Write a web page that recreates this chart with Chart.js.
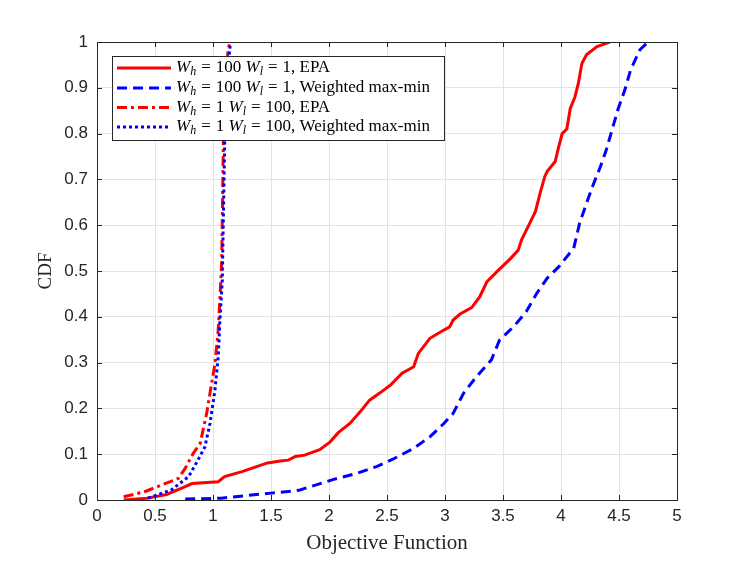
<!DOCTYPE html>
<html lang="en">
<head>
    <meta charset="UTF-8">
    <title>CDF of Objective Function</title>
    <script src="https://cdn.jsdelivr.net/npm/chart.js"></script>
    <style>
        html, body {margin: 0; padding: 0; background: #fff;}
        #wrap {width: 747px; height: 561px;}
    </style>
</head>
<body>
<div id="wrap"><canvas id="cdfChart" width="747" height="561"></canvas></div>
<script>
// tick values
const ticksX = [0, 0.5, 1, 1.5, 2, 2.5, 3, 3.5, 4, 4.5, 5];
const ticksY = [0, 0.1, 0.2, 0.3, 0.4, 0.5, 0.6, 0.7, 0.8, 0.9, 1];

// Wh=100 Wl=1, EPA
const epaHighX = [0.23, 0.43, 0.6, 0.73, 0.82, 1.045, 1.10, 1.25, 1.47, 1.58, 1.65, 1.71, 1.79, 1.92, 2.01, 2.08, 2.18, 2.27, 2.35, 2.44, 2.53, 2.63, 2.73, 2.77, 2.87, 2.99, 3.04, 3.07, 3.13, 3.23, 3.30, 3.36, 3.47, 3.56, 3.63, 3.66, 3.73, 3.78, 3.82, 3.86, 3.88, 3.95, 3.98, 4.01, 4.05, 4.08, 4.12, 4.15, 4.18, 4.22, 4.31, 4.42];
const epaHighY = [0, 0.004, 0.012, 0.026, 0.036, 0.04, 0.051, 0.062, 0.081, 0.085, 0.087, 0.095, 0.098, 0.11, 0.127, 0.147, 0.167, 0.193, 0.218, 0.234, 0.251, 0.277, 0.291, 0.32, 0.353, 0.371, 0.378, 0.393, 0.406, 0.42, 0.444, 0.476, 0.504, 0.526, 0.545, 0.568, 0.604, 0.63, 0.67, 0.706, 0.717, 0.739, 0.771, 0.80, 0.81, 0.855, 0.88, 0.91, 0.953, 0.972, 0.99, 1.0];

// Wh=100 Wl=1, Weighted max-min
const wmmHighX = [0.76, 1.07, 1.5, 1.58, 1.71, 1.75, 1.89, 2.04, 2.24, 2.41, 2.55, 2.73, 2.87, 2.99, 3.07, 3.16, 3.27, 3.40, 3.47, 3.59, 3.70, 3.79, 3.88, 3.98, 4.11, 4.16, 4.22, 4.28, 4.34, 4.39, 4.44, 4.49, 4.55, 4.60, 4.68, 4.75];
const wmmHighY = [0.002, 0.004, 0.015, 0.017, 0.02, 0.022, 0.033, 0.045, 0.058, 0.073, 0.089, 0.113, 0.138, 0.167, 0.189, 0.233, 0.269, 0.306, 0.349, 0.378, 0.411, 0.451, 0.484, 0.509, 0.55, 0.604, 0.648, 0.69, 0.728, 0.764, 0.808, 0.852, 0.895, 0.939, 0.983, 1.0];

// Wh=1 Wl=100, EPA
const epaLowX = [0.23, 0.41, 0.56, 0.70, 0.76, 0.83, 0.89, 0.945, 0.974, 1.017, 1.045, 1.06, 1.075, 1.085, 1.09, 1.12, 1.13, 1.147];
const epaLowY = [0.007, 0.018, 0.033, 0.047, 0.069, 0.102, 0.124, 0.189, 0.233, 0.298, 0.371, 0.44, 0.52, 0.70, 0.80, 0.95, 0.983, 1.0];

// Wh=1 Wl=100, Weighted max-min
const wmmLowX = [0.44, 0.64, 0.79, 0.87, 0.93, 0.974, 1.017, 1.045, 1.06, 1.08, 1.095, 1.103, 1.13, 1.147, 1.16];
const wmmLowY = [0.004, 0.022, 0.051, 0.087, 0.116, 0.167, 0.24, 0.313, 0.393, 0.48, 0.70, 0.808, 0.95, 0.99, 1.0];

const seriesNames = [
    ['100', '1', 'EPA'],
    ['100', '1', 'Weighted max-min'],
    ['1', '100', 'EPA'],
    ['1', '100', 'Weighted max-min']
];

const axisColor = '#262626';
const gridColor = '#e3e3e3';

function pts(xs, ys) {
    return xs.map((x, i) => ({x: x, y: ys[i]}));
}

const lineStyles = [
    {color: '#ff0000', dash: []},
    {color: '#0000ff', dash: [10, 6]},
    {color: '#ff0000', dash: [10, 4, 3, 4]},
    {color: '#0000ff', dash: [3, 3]}
];

// inward ticks + full box + legend, drawn on top
const boxPlugin = {
    id: 'boxPlugin',
    afterDatasetsDraw(chart) {
        const {ctx, chartArea: a, scales: {x, y}} = chart;
        ctx.save();
        ctx.strokeStyle = axisColor;
        ctx.lineWidth = 1;
        ctx.beginPath();
        ticksX.forEach(v => {
            const px = Math.round(x.getPixelForValue(v)) + 0.5;
            ctx.moveTo(px, a.bottom); ctx.lineTo(px, a.bottom - 5);
            ctx.moveTo(px, a.top); ctx.lineTo(px, a.top + 5);
        });
        ticksY.forEach(v => {
            const py = Math.round(y.getPixelForValue(v)) + 0.5;
            ctx.moveTo(a.left, py); ctx.lineTo(a.left + 5, py);
            ctx.moveTo(a.right, py); ctx.lineTo(a.right - 5, py);
        });
        ctx.stroke();
        ctx.strokeRect(Math.round(a.left) + 0.5, Math.round(a.top) + 0.5,
            Math.round(a.right - a.left), Math.round(a.bottom - a.top));

        // legend
        const lx = 112.5, ly = 56.5, lw = 332, lh = 84;
        ctx.fillStyle = '#fff';
        ctx.fillRect(lx, ly, lw, lh);
        ctx.strokeRect(lx, ly, lw, lh);
        const rows = [68, 88, 107.5, 127];
        seriesNames.forEach((n, i) => {
            const st = lineStyles[i];
            ctx.save();
            ctx.strokeStyle = st.color;
            ctx.lineWidth = 3;
            ctx.setLineDash(st.dash);
            ctx.beginPath();
            ctx.moveTo(117, rows[i]); ctx.lineTo(171, rows[i]);
            ctx.stroke();
            ctx.restore();
            const parts = [
                {t: 'W', it: true}, {t: 'h', it: true, sub: true},
                {t: '=', gap: 5}, {t: n[0] + ' '},
                {t: 'W', it: true}, {t: 'l', it: true, sub: true},
                {t: '=', gap: 5}, {t: n[1] + ', ' + n[2]}
            ];
            let cx = 176;
            ctx.fillStyle = '#000';
            ctx.textBaseline = 'middle';
            parts.forEach(p => {
                const size = p.sub ? 12 : 17;
                ctx.font = (p.it ? 'italic ' : '') + size + 'px "Liberation Serif", serif';
                if (p.gap) cx += p.gap;
                ctx.fillText(p.t, cx, rows[i] + (p.sub ? 4 : 0));
                cx += ctx.measureText(p.t).width + (p.gap || 0);
            });
        });
        ctx.restore();
    }
};

const tickFont = {family: '"Liberation Sans", Arial, sans-serif', size: 17};

new Chart(document.getElementById('cdfChart').getContext('2d'), {
    type: 'line',
    data: {
        datasets: [
            {data: pts(epaHighX, epaHighY), borderColor: lineStyles[0].color, borderDash: lineStyles[0].dash, borderWidth: 3, order: 4},
            {data: pts(wmmHighX, wmmHighY), borderColor: lineStyles[1].color, borderDash: lineStyles[1].dash, borderWidth: 3, order: 3},
            {data: pts(epaLowX, epaLowY), borderColor: lineStyles[2].color, borderDash: lineStyles[2].dash, borderWidth: 3, order: 2},
            {data: pts(wmmLowX, wmmLowY), borderColor: lineStyles[3].color, borderDash: lineStyles[3].dash, borderWidth: 3, order: 1}
        ]
    },
    options: {
        responsive: false,
        animation: false,
        parsing: false,
        elements: {point: {radius: 0}, line: {tension: 0, fill: false}},
        layout: {padding: {left: 0, top: 42, right: 70, bottom: 0}},
        plugins: {legend: {display: false}, tooltip: {enabled: false}},
        scales: {
            x: {
                type: 'linear', min: 0, max: 5,
                afterBuildTicks: s => { s.ticks = ticksX.map(v => ({value: v})); },
                afterFit: s => { s.height = 61; },
                grid: {color: gridColor, drawTicks: false},
                border: {display: false},
                ticks: {color: axisColor, padding: 6, font: tickFont, callback: v => String(v)},
                title: {display: true, text: 'Objective Function', color: axisColor,
                    font: {family: '"Liberation Serif", serif', size: 21}, padding: {top: 0, bottom: 5}}
            },
            y: {
                type: 'linear', min: 0, max: 1,
                afterBuildTicks: s => { s.ticks = ticksY.map(v => ({value: v})); },
                afterFit: s => { s.width = 97; },
                grid: {color: gridColor, drawTicks: false},
                border: {display: false},
                ticks: {color: axisColor, padding: 9, font: tickFont, callback: v => String(v)},
                title: {display: true, text: 'CDF', color: axisColor,
                    font: {family: '"Liberation Serif", serif', size: 19}, padding: {top: 35, bottom: 0}}
            }
        }
    },
    plugins: [boxPlugin]
});
</script>
</body>
</html>
